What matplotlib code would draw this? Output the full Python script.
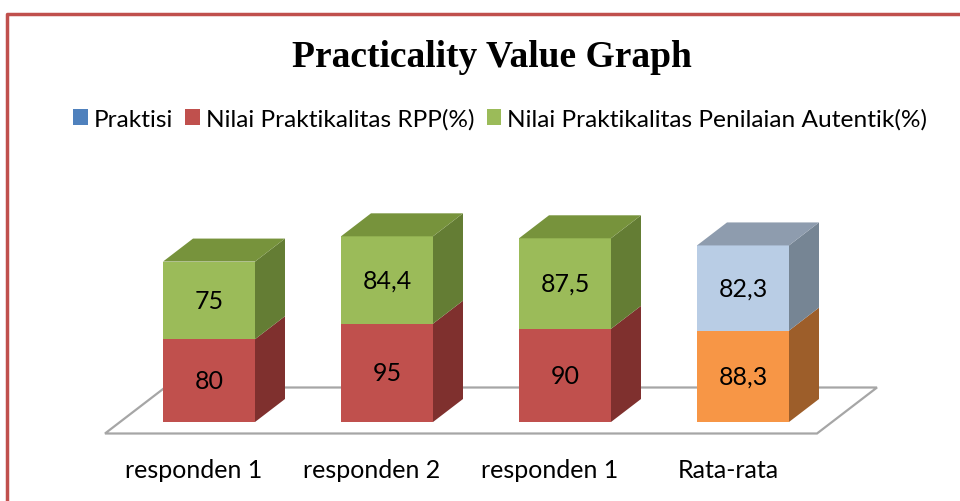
import matplotlib
matplotlib.use("Agg")
import matplotlib.pyplot as plt
from matplotlib.patches import Polygon, Patch
from matplotlib.lines import Line2D

# data
categories = ["responden 1", "responden 2", "responden 1", "Rata-rata"]
rpp = [80, 95, 90, 88.3]
autentik = [75, 84.4, 87.5, 82.3]
legend_names = ["Praktisi", "Nilai Praktikalitas RPP(%)", "Nilai Praktikalitas Penilaian Autentik(%)"]
legend_colors = ["#4F81BD", "#C0504D", "#9BBB59"]

# per-point colours (front, side, top) -- the average bar is drawn in other colours
low_colors = [("#C0504D", "#7F302E", "#A04340")] * 3 + [("#F79646", "#9D5E2A", "#C8773A")]
high_colors = [("#9BBB59", "#647D34", "#77933C")] * 3 + [("#B9CDE5", "#768594", "#8E9CAE")]

# layout (pixels of the 960x502 picture)
px_per_cat = 178.0
px_per_val = 1.035
x0_px, y0_px = 209, 423
bar_w = 92 / px_per_cat
dx = 30 / px_per_cat          # depth offset in x units
dy = 23 / px_per_val          # depth offset in value units
font = "Lato"

fig = plt.figure(figsize=(9.6, 5.02), dpi=100)
ax = fig.add_axes([0, 0, 1, 1])
ax.set_xlim(-x0_px / px_per_cat, (960 - x0_px) / px_per_cat)
ax.set_ylim(-(502 - y0_px) / px_per_val, y0_px / px_per_val)
ax.axis("off")

# floor
n = len(categories)
fl, fr = -0.5, n - 0.5
floor = Polygon([(fl - 0.5 * dx, -0.5 * dy), (fr - 0.5 * dx, -0.5 * dy),
                 (fr + 1.5 * dx, 1.5 * dy), (fl + 1.5 * dx, 1.5 * dy)],
                closed=True, facecolor="white", edgecolor="#A6A6A6", lw=1.6, zorder=1)
ax.add_patch(floor)


def box(xc, y_lo, y_hi, cols, top):
    l, r = xc - bar_w / 2, xc + bar_w / 2
    front, side, topc = cols
    ax.add_patch(Polygon([(l, y_lo), (r, y_lo), (r, y_hi), (l, y_hi)],
                         facecolor=front, edgecolor="none", zorder=3))
    ax.add_patch(Polygon([(r, y_lo), (r + dx, y_lo + dy), (r + dx, y_hi + dy), (r, y_hi)],
                         facecolor=side, edgecolor="none", zorder=3))
    if top:
        ax.add_patch(Polygon([(l, y_hi), (r, y_hi), (r + dx, y_hi + dy), (l + dx, y_hi + dy)],
                             facecolor=topc, edgecolor="none", zorder=3))


for i in range(n):
    box(i, 0, rpp[i], low_colors[i], False)
    box(i, rpp[i], rpp[i] + autentik[i], high_colors[i], True)
    ax.text(i, rpp[i] / 2, f"{rpp[i]:g}".replace(".", ","), ha="center", va="center",
            fontsize=18, family=font, zorder=4)
    ax.text(i, rpp[i] + autentik[i] / 2, f"{autentik[i]:g}".replace(".", ","), ha="center",
            va="center", fontsize=18, family=font, zorder=4)
    ax.text(i - dx / 2, -46, categories[i], ha="center", va="center", fontsize=18, family=font)

fig.text(0.512, 0.886, "Practicality Value Graph", ha="center", va="center",
         family="Liberation Serif", weight="bold", fontsize=27)

handles = [Patch(facecolor=c, edgecolor="none") for c in legend_colors]
fig.legend(handles, legend_names, loc="center", bbox_to_anchor=(0.521, 0.761), ncol=3,
           frameon=False, prop={"family": font, "size": 17.6}, handlelength=0.6, handleheight=0.6,
           handletextpad=0.25, columnspacing=0.5)

# red border of the chart area (runs off the right and bottom edge)
fig.add_artist(Line2D([6.5 / 960, 6.5 / 960, 1.0], [0, 1 - 15 / 502, 1 - 15 / 502],
                      color="#C0504D", lw=2.5, transform=fig.transFigure))

fig.savefig("out.png", dpi=100, facecolor="white")
